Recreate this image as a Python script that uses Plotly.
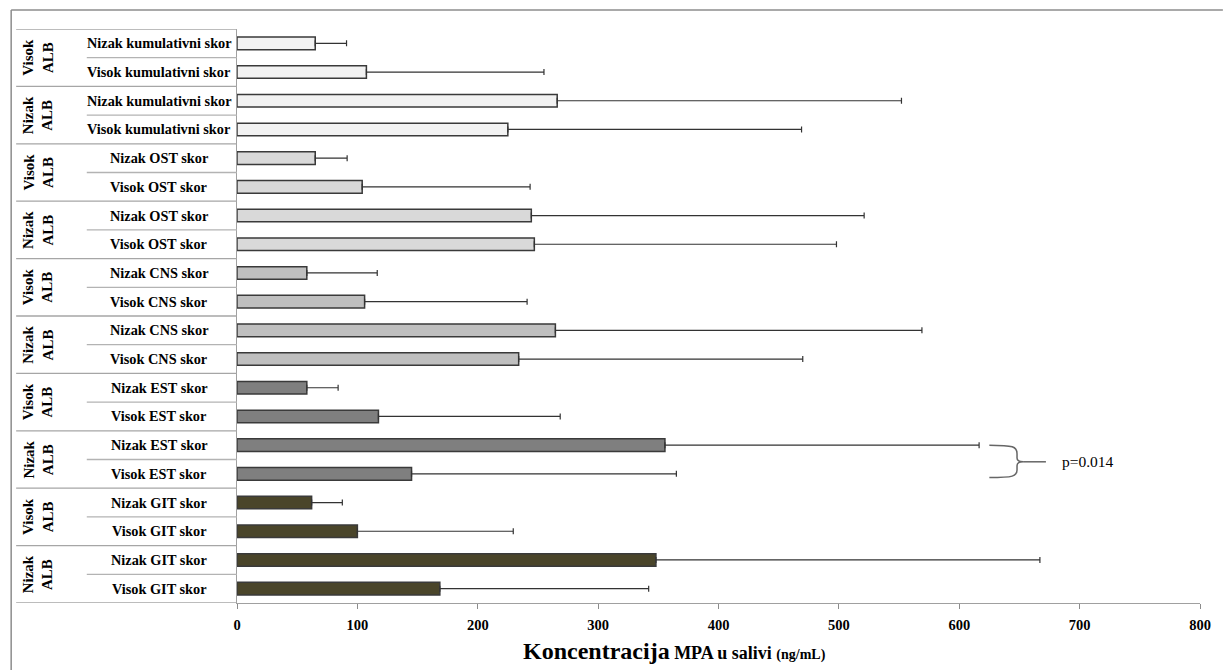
import plotly.graph_objects as go

# ---- data ----
bar_labels = [
    "Nizak kumulativni skor", "Visok kumulativni skor",
    "Nizak kumulativni skor", "Visok kumulativni skor",
    "Nizak OST skor", "Visok OST skor",
    "Nizak OST skor", "Visok OST skor",
    "Nizak CNS skor", "Visok CNS skor",
    "Nizak CNS skor", "Visok CNS skor",
    "Nizak EST skor", "Visok EST skor",
    "Nizak EST skor", "Visok EST skor",
    "Nizak GIT skor", "Visok GIT skor",
    "Nizak GIT skor", "Visok GIT skor",
]
group_labels = ["Visok<br>ALB", "Nizak<br>ALB"] * 5
means = [65, 107.5, 266, 225,
         65, 104, 244.5, 247,
         58, 106, 264.5, 234,
         58, 117.5, 355.5, 145,
         62, 100, 348, 168.5]
upper_ends = [91, 255, 552, 469,
              91.5, 243.5, 521, 498,
              116.5, 241, 569, 470,
              84, 268.5, 616.5, 365,
              87.5, 229.5, 667, 342]
score_colors = ["#f2f2f2"] * 4 + ["#d9d9d9"] * 4 + ["#bfbfbf"] * 4 + ["#7f7f7f"] * 4 + ["#4a452a"] * 4
x_ticks = [0, 100, 200, 300, 400, 500, 600, 700, 800]
p_text = "p=0.014"

# ---- layout geometry (pixels) ----
W, H = 1223, 670
L, R, T, B = 237, 18, 29, 67
pw = W - L - R
ph = H - T - B


def px_x(px):
    return (px - L) / pw


def px_y(py):
    return (H - B - py) / ph


SERIF = "Liberation Serif"
pos = list(range(len(means)))
err_plus = [u - m for u, m in zip(upper_ends, means)]

fig = go.Figure()
fig.add_trace(go.Bar(
    y=pos, x=means, orientation="h", width=0.44,
    marker=dict(color=score_colors, line=dict(color="#3a3a3a", width=1.5)),
    error_x=dict(type="data", symmetric=False, array=err_plus,
                 arrayminus=[0] * len(means), color="#333333",
                 thickness=1.2, width=3),
    hoverinfo="x+y",
))

shapes = []
annotations = []

# table lines in the label area
for i in range(len(means) + 1):
    yv = i - 0.5
    if i % 2 == 0:
        x0 = px_x(15)
        col = "#a6a6a6"
    else:
        x0 = px_x(86)
        col = "#b3b3b3"
    shapes.append(dict(type="line", xref="paper", yref="y", x0=x0, x1=0,
                       y0=yv, y1=yv, line=dict(color=col, width=1.3)))

# outer frame (left and top edges)
shapes.append(dict(type="line", xref="paper", yref="paper", x0=px_x(10), x1=px_x(10),
                   y0=px_y(10), y1=px_y(H + 5), line=dict(color="#8c8c8c", width=1.5)))
shapes.append(dict(type="line", xref="paper", yref="paper", x0=px_x(10), x1=px_x(W + 5),
                   y0=px_y(10), y1=px_y(10), line=dict(color="#8c8c8c", width=1.5)))

# bar labels
for i, lab in enumerate(bar_labels):
    annotations.append(dict(xref="paper", yref="y", x=px_x(159), y=i, text=lab,
                            showarrow=False, xanchor="center", yanchor="middle",
                            font=dict(family=SERIF, size=14.3, color="black", weight="bold")))

# group labels
for g, lab in enumerate(group_labels):
    annotations.append(dict(xref="paper", yref="y", x=px_x(37), y=2 * g + 0.5, text=lab,
                            showarrow=False, textangle=-90, xanchor="center", yanchor="middle",
                            font=dict(family=SERIF, size=15, color="black", weight="bold")))

# significance bracket
brace = ("M 625,14.0 C 645,14.0 648,14.05 648,14.3 L 648,14.45 "
         "C 648,14.55 650,14.58 653,14.58 C 650,14.58 648,14.62 648,14.72 "
         "L 648,14.87 C 648,15.08 645,15.13 625,15.13")
shapes.append(dict(type="path", xref="x", yref="y", path=brace,
                   line=dict(color="#666666", width=1.5)))
shapes.append(dict(type="line", xref="x", yref="y", x0=653, x1=672, y0=14.58, y1=14.58,
                   line=dict(color="#666666", width=1.5)))
annotations.append(dict(xref="x", yref="y", x=684, y=14.58, text=p_text, showarrow=False,
                        xanchor="left", yanchor="middle",
                        font=dict(family=SERIF, size=15.5, color="black")))

# axis title
annotations.append(dict(
    xref="paper", yref="paper", x=px_x(677), y=px_y(651), showarrow=False,
    xanchor="center", yanchor="middle",
    text=("<span style='font-size:24px'>Koncentracija</span> "
          "<span style='font-size:18px'>MPA u salivi</span> "
          "<span style='font-size:14px'>(ng/mL)</span>"),
    font=dict(family=SERIF, size=18, color="black", weight="bold")))

fig.update_layout(
    width=W, height=H,
    margin=dict(l=L, r=R, t=T, b=B),
    paper_bgcolor="white", plot_bgcolor="white",
    showlegend=False,
    shapes=shapes, annotations=annotations,
    xaxis=dict(range=[0, 800], tickvals=x_ticks, ticks="outside", ticklen=5,
               tickcolor="#8c8c8c", showline=True, linecolor="#a0a0a0", linewidth=1.3,
               showgrid=False, zeroline=False, ticklabelstandoff=3,
               tickfont=dict(family=SERIF, size=14.5, color="black", weight="bold")),
    yaxis=dict(range=[len(means) - 0.5, -0.5], showticklabels=False, ticks="",
               showline=True, linecolor="#a0a0a0", linewidth=1.3,
               showgrid=False, zeroline=False),
)

fig.write_html("out.html")
